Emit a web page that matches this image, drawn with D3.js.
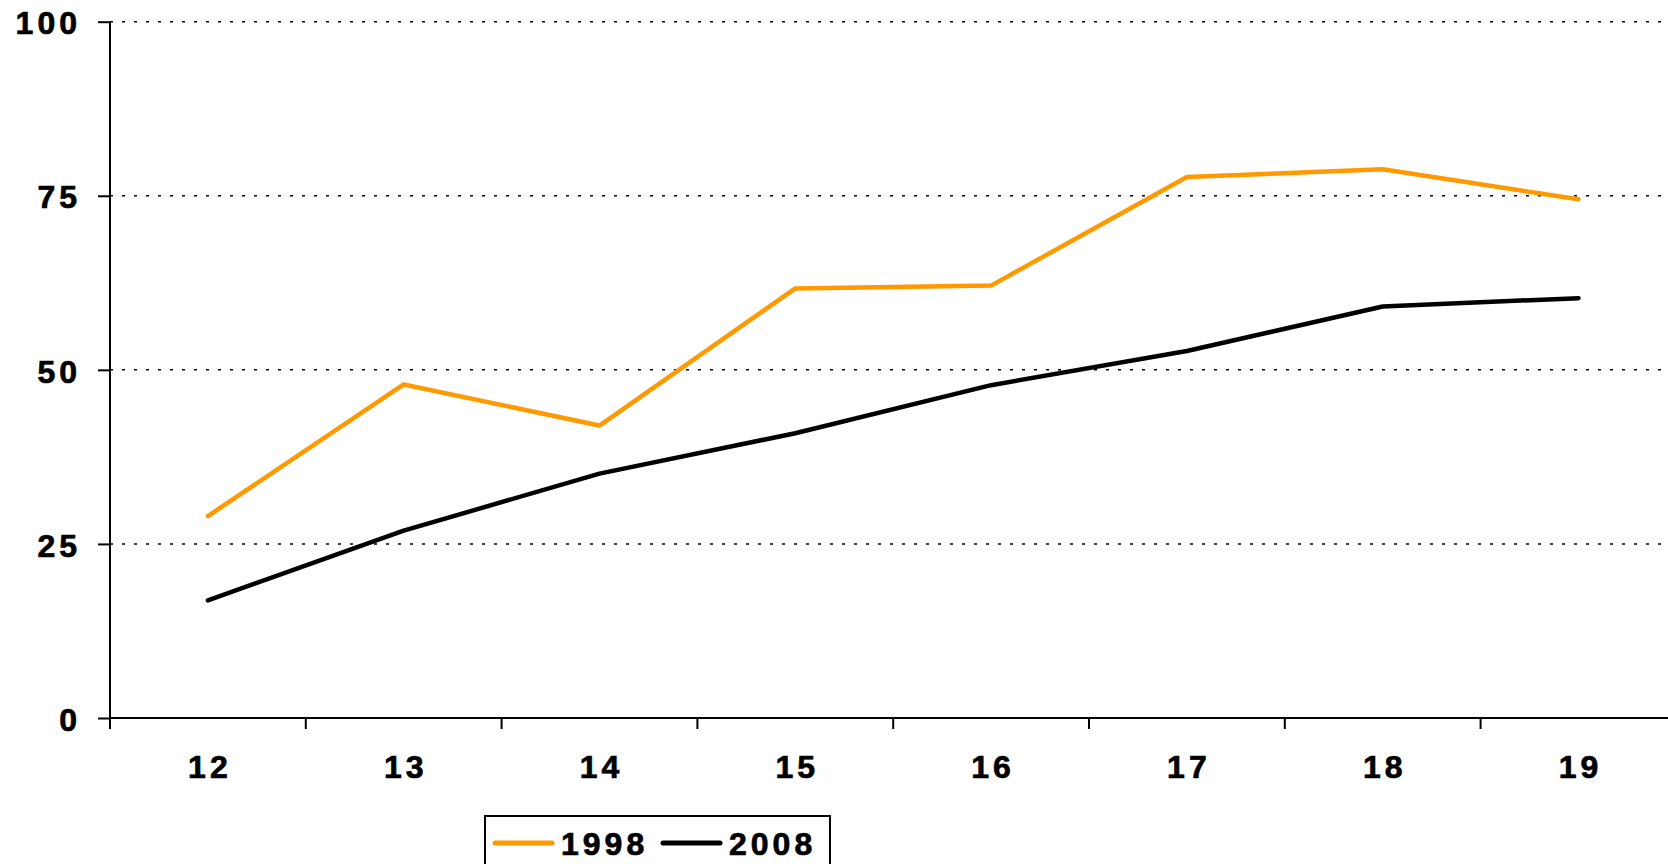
<!DOCTYPE html>
<html>
<head>
<meta charset="utf-8">
<script src="https://cdn.jsdelivr.net/npm/d3@7"></script>
<style>
  body { margin: 0; background: #fff; }
  svg { display: block; }
  text { font-family: "Liberation Sans", Arial, sans-serif; font-weight: bold; fill: #000; stroke: #000; stroke-width: 0.7px; }
</style>
</head>
<body>
<div id="chart"></div>
<script>
// width and height of the svg
const width = 1668;
const height = 864;
const margin = {top: 22, left: 110, bottom: 146};

// data
const ages = ["12", "13", "14", "15", "16", "17", "18", "19"];
const values1998 = [29.0, 47.9, 42.0, 61.7, 62.1, 77.7, 78.8, 74.5];
const values2008 = [16.9, 26.9, 35.1, 40.9, 47.8, 52.7, 59.1, 60.3];
const yTicks = [0, 25, 50, 75, 100];
const seriesNames = ["1998", "2008"];

// colours
const orange = "#ff9900";
const black = "#000000";

const series = [
  {name: seriesNames[0], values: values1998, color: orange},
  {name: seriesNames[1], values: values2008, color: black}
];

const svg = d3.select("#chart").append("svg")
  .attr("width", width)
  .attr("height", height);

/// Scales ///
const x = d3.scaleBand()
  .domain(ages)
  .range([margin.left, margin.left + ages.length * 195.8]);

const y = d3.scaleLinear()
  .domain([0, 100])
  .range([height - margin.bottom, margin.top - 0.3]);

/// Gridlines ///
svg.append("g")
  .selectAll("line")
  .data(yTicks.filter(d => d > 0))
  .join("line")
    .attr("x1", margin.left)
    .attr("x2", width)
    .attr("y1", d => y(d))
    .attr("y2", d => y(d))
    .attr("stroke", "#000")
    .attr("stroke-width", 1.5)
    .attr("stroke-dasharray", "3,9")
    .attr("stroke-dashoffset", -12);

/// Y axis ///
const yAxis = svg.append("g")
  .attr("transform", `translate(${margin.left},0)`)
  .call(d3.axisLeft(y).tickValues(yTicks).tickSize(12).tickPadding(0));
yAxis.select(".domain").attr("stroke-width", 2).attr("d", `M0,${y(0)}V${y(100)}`);
yAxis.selectAll(".tick line").attr("stroke-width", 2);
yAxis.selectAll(".tick text")
  .attr("x", -29)
  .attr("dy", "0.38em")
  .attr("font-size", 32)
  .attr("letter-spacing", 4)
  .attr("font-family", "'Liberation Sans', Arial, sans-serif")
  .attr("font-weight", "bold");

/// X axis ///
const xAxisG = svg.append("g")
  .attr("transform", `translate(0,${y(0)})`);
xAxisG.append("line")
  .attr("x1", margin.left)
  .attr("x2", width)
  .attr("stroke", "#000")
  .attr("stroke-width", 2);
xAxisG.selectAll(".xtick")
  .data(ages.concat(["end"]))
  .join("line")
    .attr("class", "xtick")
    .attr("x1", (d, i) => margin.left + i * x.step())
    .attr("x2", (d, i) => margin.left + i * x.step())
    .attr("y1", 0)
    .attr("y2", 11)
    .attr("stroke", "#000")
    .attr("stroke-width", 2);
xAxisG.selectAll(".xlabel")
  .data(ages)
  .join("text")
    .attr("class", "xlabel")
    .attr("x", d => x(d) + x.bandwidth() / 2 + 2)
    .attr("y", 60)
    .attr("text-anchor", "middle")
    .attr("font-size", 32)
    .attr("letter-spacing", 4)
    .text(d => d);

/// Lines ///
const line = d3.line()
  .x((d, i) => x(ages[i]) + x.bandwidth() / 2)
  .y(d => y(d));

svg.append("g")
  .selectAll("path")
  .data(series)
  .join("path")
    .attr("fill", "none")
    .attr("stroke", d => d.color)
    .attr("stroke-width", 4.5)
    .attr("stroke-linejoin", "round")
    .attr("stroke-linecap", "round")
    .attr("d", d => line(d.values));

/// Legend ///
const legend = svg.append("g").attr("transform", "translate(485,816)");
legend.append("rect")
  .attr("width", 345)
  .attr("height", 80)
  .attr("fill", "#fff")
  .attr("stroke", "#000")
  .attr("stroke-width", 2);
const items = legend.selectAll(".item")
  .data(series)
  .join("g")
    .attr("class", "item")
    .attr("transform", (d, i) => `translate(${10 + i * 168},27)`);
items.append("line")
  .attr("x1", 0)
  .attr("x2", 57)
  .attr("stroke", d => d.color)
  .attr("stroke-width", 5)
  .attr("stroke-linecap", "round");
items.append("text")
  .attr("x", 66)
  .attr("y", 12)
  .attr("font-size", 32)
  .attr("letter-spacing", 4)
  .text(d => d.name);
</script>
</body>
</html>
